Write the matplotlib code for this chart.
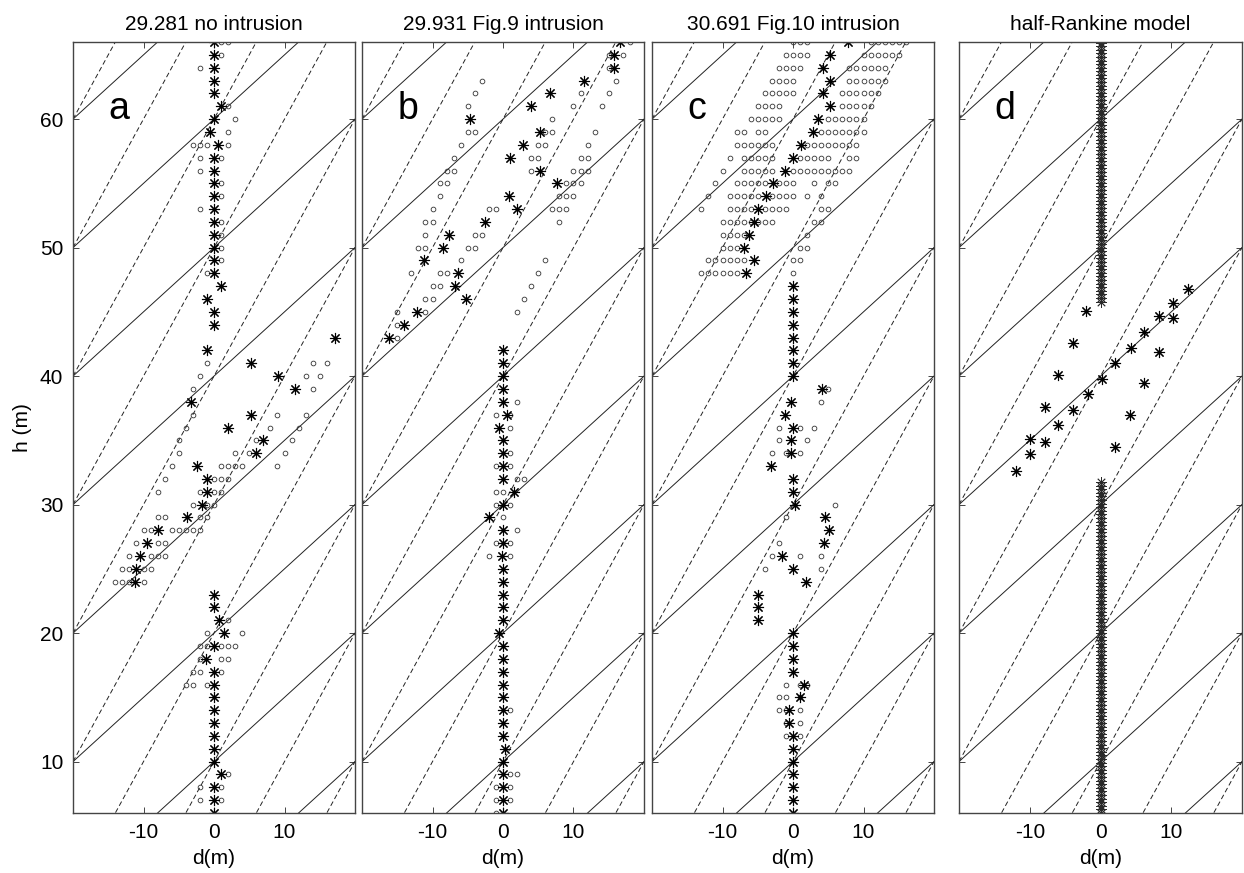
import numpy as np
import matplotlib.pyplot as plt

plt.rcParams['font.family'] = ['Liberation Sans', 'DejaVu Sans']
plt.rcParams['axes.unicode_minus'] = False

# panel titles and letters
titles = ["29.281 no intrusion", "29.931 Fig.9 intrusion",
          "30.691 Fig.10 intrusion", "half-Rankine model"]
letters = ["a", "b", "c", "d"]
xticks = [-10, 0, 10]
yticks = [10, 20, 30, 40, 50, 60]

# guide lines: h = slope*d + offset
solid_slope = 0.5
dashed_slope = 1.0
line_offsets = [-30, -20, -10, 0, 10, 20, 30, 40, 50, 60, 70, 80, 90]

# ---- panel a ----
a_star_h = [66, 65, 64, 63, 62, 61, 60, 59, 58, 57, 56, 55, 54, 53, 52, 51, 50, 49, 48, 47,
            46, 45, 44, 43, 42, 41, 40, 39, 38, 37, 36, 35, 34, 33, 32, 31, 30, 29, 28, 27,
            26, 25, 24, 23, 22, 21, 20, 19, 18, 17, 16, 15, 14, 13, 12, 11, 10, 9, 8, 7, 6]
a_star_d = [0, 0, 0, 0, 0, 1.0, 0, -0.5, 0.5, 0, 0, 0, 0, 0, 0, 0, 0, 0, 0, 1.0,
            -1.0, 0, 0, 17.2, -1.0, 5.3, 9.1, 11.5, -3.2, 5.3, 2.0, 7.0, 6.0, -2.4, -1.0, -1.0, -1.7, -3.9, -8.0, -9.5,
            -10.5, -11.0, -11.2, 0, 0, 0.7, 1.4, 0, -1.2, 0, 0, 0, 0, 0, 0, 0, 0, 1.0, 0, 0, 0]
a_circle_rows = [
    (66, [1, 2]), (65, [1]), (64, [-2]), (61, [2]), (60, [3]), (59, [2]),
    (58, [-3, -2, -1, 2]), (57, [-2, 1]), (56, [-2]), (55, [1]), (54, [1]), (53, [-2]),
    (52, [1]), (51, [1]), (50, [1]), (49, [1]), (48, [-1]),
    (41, [-1, 14, 16]), (40, [-2, 13, 15]), (39, [-3, 14]), (37, [-3, 9, 13]),
    (36, [-4, 8, 12]), (35, [-5, 6, 11]), (34, [-5, 3, 5, 10]), (33, [-6, 1, 2, 3, 4, 9]),
    (32, [-7, 0, 1, 2]), (31, [-8, -2, 0, 1]), (30, [-3, -1, 0]), (29, [-8, -7, -2, -1]),
    (28, [-10, -9, -6, -5, -4, -3, -2]), (27, [-11, -8, -7]), (26, [-12, -9, -8, -7]),
    (25, [-13, -12, -10, -9]), (24, [-14, -13, -12, -10]),
    (21, [2]), (20, [-1, 4]), (19, [-2, -1, 1, 2, 3]), (18, [-2, 1, 2]), (17, [-3, -2, 1]),
    (16, [-4, -3, -1]), (9, [2]), (8, [-2, 1]), (7, [-2, 1]),
]

# ---- panel b ----
b_star_h = [66, 65, 64, 63, 62, 61, 60, 59, 58, 57, 56, 55, 54, 53, 52, 51, 50, 49, 48, 47,
            46, 45, 44, 43, 42, 41, 40, 39, 38, 37, 36, 35, 34, 33, 32, 31, 30, 29, 28, 27,
            26, 25, 24, 23, 22, 21, 20, 19, 18, 17, 16, 15, 14, 13, 12, 11, 10, 9, 8, 7, 6]
b_star_d = [16.6, 15.7, 15.7, 11.5, 6.6, 4.0, -4.7, 5.2, 2.9, 1.0, 5.2, 7.7, 0.8, 2.0, -2.5, -7.6, -8.5, -11.2, -6.4, -6.8,
            -5.2, -12.2, -14.1, -16.2, 0, 0, 0, 0, 0, 0.6, -0.6, 0, 0, 0, 0, 1.5, 0, -2.0, 0, 0,
            -0.1, 0, 0, 0, 0, 0, -0.6, 0, 0, 0, 0, 0, 0, 0, 0, 0.3, 0, 0, 0, 0, 0]
b_circle_rows = [
    (66, [18]), (65, [15, 17]), (64, [15]), (63, [-3, 16]), (62, [-4, 11, 15]),
    (61, [-5, 10, 14]), (60, [7]), (59, [-5, -4, 6, 7, 13]), (58, [-6, 5, 6, 12]),
    (57, [-7, 4, 5, 11, 12]), (56, [-8, -7, 4, 10, 11, 12]), (55, [-9, -8, 9, 10, 11]),
    (54, [-9, 8, 9, 10]), (53, [-10, -2, -1, 7, 8, 9]), (52, [-11, -10, 8]),
    (51, [-11, -4, -3]), (50, [-12, -11, -5, -4]), (49, [-6, 6]), (48, [-13, -9, -8, 5]),
    (47, [-10, -9, 4]), (46, [-11, -10, 3]), (45, [-15, -11, 2]), (44, [-15]), (43, [-15]),
    (38, [2]), (37, [-1, 1]), (36, [1]), (34, [1]), (33, [-1, 1]), (32, [2, 3]),
    (31, [-1, 0]), (30, [-1, 1]), (29, [0]), (28, [2]), (27, [-1, 1]), (26, [-2, 1]),
    (14, [1]), (9, [1, 2]), (8, [-1, 1]), (7, [-1, 1]), (6, [-1]),
]

# ---- panel c ----
c_star_h = [66, 65, 64, 63, 62, 61, 60, 59, 58, 57, 56, 55, 54, 53, 52, 51, 50, 49, 48, 47,
            46, 45, 44, 43, 42, 41, 40, 39, 38, 37, 36, 35, 34, 33, 32, 31, 30, 29, 28, 27,
            26, 25, 24, 23, 22, 21, 20, 19, 18, 17, 16, 15, 14, 13, 12, 11, 10, 9, 8, 7, 6]
c_star_d = [7.8, 5.2, 4.2, 5.2, 4.2, 5.3, 3.6, 2.9, 1.2, 0, -1.1, -2.9, -3.8, -4.9, -5.6, -6.3, -7.0, -5.6, -6.6, 0,
            0, 0, 0, 0, 0, 0, 0, 4.1, -0.3, -1.1, 0, -0.3, -0.3, -3.1, 0, 0, 0.3, 4.6, 5.1, 4.4,
            -1.6, 0, 1.8, -5.0, -5.0, -5.0, 0, 0, 0, 0, 1.5, 1.0, -0.5, -0.5, 0, 0, 0, 0, 0, 0, 0]
c_circle_rows = [
    (66, [0, 1, 2, 11, 12, 13, 14, 15, 16]), (65, [-1, 0, 1, 2, 10, 11, 12, 13, 14, 15]),
    (64, [-2, -1, 0, 1, 8, 9, 10, 11, 12, 13]), (63, [-3, -2, -1, 0, 8, 9, 10, 11, 12, 13]),
    (62, [-4, -3, -2, -1, 0, 7, 8, 9, 10, 11, 12]), (61, [-5, -4, -3, -2, 7, 8, 9, 10, 11]),
    (60, [-6, -5, -4, -3, -2, 5, 6, 7, 8, 9, 10]), (59, [-8, -7, -5, -4, 4, 5, 6, 7, 8, 9, 10]),
    (58, [-8, -7, -6, -5, -4, -3, 2, 3, 4, 5, 6, 7, 8, 9]), (57, [-9, -7, -6, -5, -4, -3, 1, 2, 3, 4, 5, 8, 9]),
    (56, [-10, -7, -6, -5, -4, -3, 0, 1, 2, 3, 4, 5, 6, 7, 8]), (55, [-11, -8, -7, -6, -5, -4, -2, -1, 0, 3, 5, 6]),
    (54, [-12, -9, -8, -7, -6, -5, -3, -2, -1, 0, 2, 4]), (53, [-13, -9, -8, -7, -6, -4, -3, -2, -1, 4, 5]),
    (52, [-10, -9, -8, -7, -6, -5, -4, -3, 3, 4]), (51, [-10, -9, -8, -7, 2]), (50, [-10, -9, -8, 1, 2]),
    (49, [-12, -11, -10, -9, -8, -7, 0, 1]), (48, [-13, -12, -11, -10, -9, -8, 0]),
    (39, [5]), (38, [4]), (36, [-2, 1, 3]), (35, [-2, 2]), (34, [-3, -1, 1]),
    (30, [6]), (29, [-1]), (27, [-2]), (26, [-3, 1, 4]), (25, [-4, 4]),
    (16, [-1, 1, 2]), (15, [-2, -1, 1]), (14, [-2, -1, 1]), (13, [-1, 1]), (12, [-1, 1]),
]

# ---- panel d (half-Rankine) ----
d_chain_ranges = [(6.0, 32.0, 0.28), (45.8, 66.0, 0.28)]   # dense stars on d = 0
d_star_d = [-2.0, 10.2, 8.2, 10.2, 6.2, -3.9, 4.3, 8.2, 2.1, -6.0, 0.2, 6.2, -1.8,
            -7.9, -3.9, 4.2, -6.0, -10.0, -7.9, 2.0, -10.0, -11.9, 12.3]
d_star_h = [45.1, 45.7, 44.7, 44.5, 43.4, 42.6, 42.2, 41.9, 41.0, 40.1, 39.8, 39.5, 38.6,
            37.6, 37.4, 37.0, 36.2, 35.1, 34.9, 34.5, 33.9, 32.6, 46.8]


def rows_to_xy(rows):
    xs, ys = [], []
    for h, ds in rows:
        xs += ds
        ys += [h] * len(ds)
    return xs, ys


chain_h = np.concatenate([np.arange(a, b + 1e-9, s) for a, b, s in d_chain_ranges])
panels = [
    (a_star_d, a_star_h, a_circle_rows),
    (b_star_d, b_star_h, b_circle_rows),
    (c_star_d, c_star_h, c_circle_rows),
    (d_star_d, d_star_h, []),
]

fig = plt.figure(figsize=(12.44, 8.73), dpi=100)
W, H = 1244, 873
lefts = [73, 362, 652, 959]
widths = [282, 282, 282, 283]
top, bottom = 42, 813
frame_col = '#444444'
line_col = '#222222'
star = (8, 2, 0)

for i, (sd, sh, crow) in enumerate(panels):
    ax = fig.add_axes([lefts[i] / W, (H - bottom) / H, widths[i] / W, (bottom - top) / H])
    xs = np.array([-20, 20])
    for c in line_offsets:
        ax.plot(xs, solid_slope * xs + c, color=line_col, lw=0.7)
        ax.plot(xs, dashed_slope * xs + c, color=line_col, lw=0.7, ls=(0, (5, 3)))
    cx, cy = rows_to_xy(crow)
    ax.plot(cx, cy, 'o', ms=3.4, mfc='none', mec='#333333', mew=0.6)
    ax.plot(sd, sh, ls='none', marker=star, ms=8, mec='black', mew=0.8)
    if i == 3:
        ax.plot(np.zeros_like(chain_h), chain_h, ls='none', marker=star, ms=7.5,
                mec='#2a2a2a', mew=0.6)

    ax.set_xlim(-20, 20)
    ax.set_ylim(6, 66)
    ax.set_xticks(xticks)
    ax.set_yticks(yticks)
    ax.tick_params(direction='in', length=4, width=0.7, top=True, right=True,
                   labelsize=15, color=frame_col, pad=7)
    if i > 0:
        ax.set_yticklabels([])
    else:
        ax.set_ylabel("h (m)", fontsize=15, labelpad=6)
    for sp in ax.spines.values():
        sp.set_color(frame_col)
        sp.set_linewidth(1.0)
    ax.set_xlabel("d(m)", fontsize=15, labelpad=5)
    ax.set_title(titles[i], fontsize=15, pad=9)
    ax.text(-15, 60, letters[i], fontsize=27, va='baseline', ha='left')

fig.savefig("out.png", dpi=100)
